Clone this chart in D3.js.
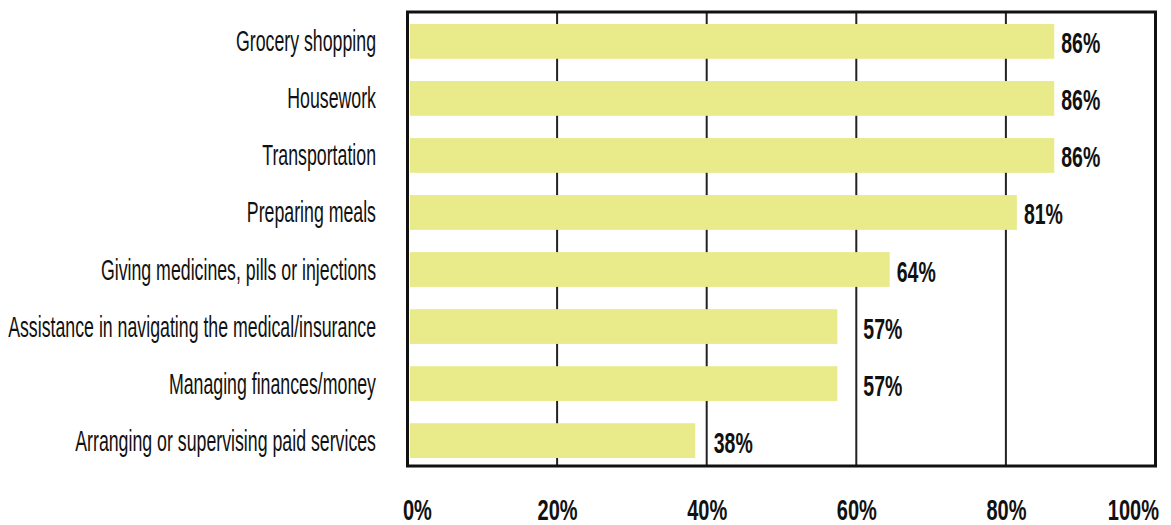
<!DOCTYPE html>
<html><head><meta charset="utf-8">
<script src="https://cdn.jsdelivr.net/npm/d3@7"></script>
<style>body{margin:0;background:#fff}svg{display:block}</style>
</head><body>
<svg id="c" width="1171" height="525"></svg>
<script>
const categories = ["Grocery shopping","Housework","Transportation","Preparing meals","Giving medicines, pills or injections","Assistance in navigating the medical/insurance","Managing finances/money","Arranging or supervising paid services"];
const values = [86,86,86,81,64,57,57,38];
const tickValues = [0,20,40,60,80,100];
const tickLabels = ["0%","20%","40%","60%","80%","100%"];

const svg = d3.select("#c");
const L = 407.5, R = 1155.5, T = 12, B = 466;
const x = d3.scaleLinear().domain([0,100]).range([L,R]);
const y = d3.scaleBand().domain(categories).range([T,B]).paddingInner(0.39).paddingOuter(0.175).align(0.6);
const FONT = "'Liberation Sans', Arial, sans-serif";

// gridlines
const grid = tickValues.filter(d=>d>0 && d<100);
svg.append("g").selectAll("line").data(grid).join("line")
  .attr("x1",d=>x(d)).attr("x2",d=>x(d)).attr("y1",T).attr("y2",B)
  .attr("stroke","#222").attr("stroke-width",2);

// bars
svg.append("g").selectAll("rect").data(values).join("rect")
  .attr("x",x(0)+2.5).attr("y",(d,i)=>y(categories[i]))
  .attr("width",d=>x(d)-x(0)+1).attr("height",y.bandwidth())
  .attr("fill","#e9eb8b");

// frame
svg.append("rect").attr("x",L).attr("y",T).attr("width",R-L).attr("height",B-T)
  .attr("fill","none").attr("stroke","#111").attr("stroke-width",3);

// category labels
const sx = 0.612;
svg.append("g").selectAll("text").data(categories).join("text")
  .attr("transform",d=>`translate(376,${y(d)+y.bandwidth()/2+10}) scale(${sx},1)`)
  .attr("text-anchor","end").attr("font-family",FONT).attr("font-size",29).attr("fill","#111")
  .text(d=>d);

// value labels (moved past a gridline when they would overlap it)
const sv = 0.65;
function labelX(v){
  const end = x(v)+3.5;
  const g = grid.find(t=>x(t)>end && x(t)<end+30);
  return g!==undefined ? x(g)+7 : end+7;
}
svg.append("g").selectAll("text").data(values).join("text")
  .attr("transform",(d,i)=>`translate(${labelX(d)},${y(categories[i])+y.bandwidth()/2+12}) scale(${sv},1)`)
  .attr("font-family",FONT).attr("font-weight","bold").attr("font-size",30).attr("fill","#111")
  .text(d=>d+"%");

// x axis labels
const ax = d3.axisBottom(x).tickValues(tickValues).tickFormat((d,i)=>tickLabels[i]).tickSize(0);
const g = svg.append("g").attr("transform",`translate(0,${B})`).call(ax);
g.select(".domain").remove();
g.selectAll("text").each(function(d,i){
  const t = d3.select(this);
  const anchor = i===0 ? "start" : (i===tickValues.length-1 ? "end" : "middle");
  const off = i===0 ? -5 : (i===tickValues.length-1 ? 3 : 0);
  t.attr("y",null).attr("dy",null).attr("text-anchor",anchor)
   .attr("transform",`translate(${off},54) scale(0.667,1)`)
   .attr("x",0)
   .attr("font-family",FONT).attr("font-weight","bold").attr("font-size",30).attr("fill","#111");
});
</script>
</body></html>
